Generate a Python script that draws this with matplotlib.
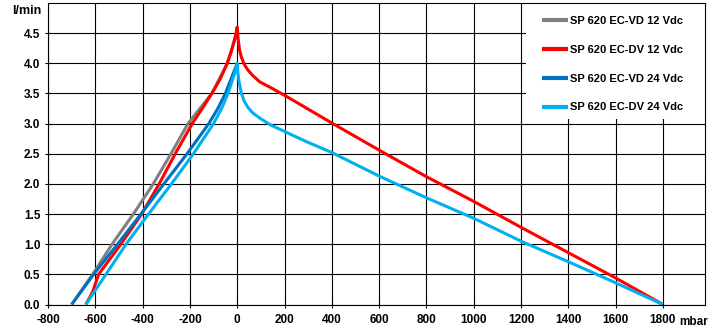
import matplotlib
matplotlib.use("Agg")
import matplotlib.pyplot as plt
from matplotlib.patches import Rectangle

plt.rcParams['font.family'] = ['Liberation Sans', 'DejaVu Sans']
plt.rcParams['font.weight'] = 'bold'
plt.rcParams['font.size'] = 8.5

# pressure in mbar (negative = vacuum), flow in l/min
vd12_p = [-700, -611, -529, -439, -355, -280, -208, -168, -107, -42, -25, -12, -4, 0]
vd12_q = [0.0, 0.5, 1.0, 1.5, 2.0, 2.5, 3.0, 3.2, 3.5, 4.0, 4.2, 4.38, 4.5, 4.6]

dv12_p = [-640, -612, -586, -492, -404, -330, -262, -190, -148, -107, -72, -42, -25, -12, -4, 0,
          4, 10, 18, 30, 45, 65, 96, 140, 200, 400, 600, 800, 1000, 1200, 1400, 1600, 1800]
dv12_q = [0.0, 0.2, 0.5, 1.0, 1.5, 2.0, 2.5, 3.0, 3.25, 3.5, 3.74, 4.0, 4.2, 4.38, 4.5, 4.6,
          4.4, 4.22, 4.1, 3.98, 3.89, 3.8, 3.69, 3.6, 3.47, 3.01, 2.56, 2.12, 1.71, 1.28, 0.86, 0.44, 0.0]

vd24_p = [-700, -607, -506, -407, -310, -212, -120, -82, -50, -30, -15, 0]
vd24_q = [0.0, 0.5, 1.0, 1.5, 2.0, 2.5, 3.0, 3.25, 3.5, 3.7, 3.85, 4.0]

dv24_p = [-640, -555, -470, -375, -278, -185, -100, -66, -39, -22, -8, 0,
          4, 10, 18, 30, 45, 65, 96, 140, 200, 293, 400, 600, 800, 1000, 1200, 1400, 1600, 1800]
dv24_q = [0.0, 0.5, 1.0, 1.5, 2.0, 2.5, 3.0, 3.25, 3.5, 3.7, 3.87, 4.0,
          3.8, 3.65, 3.5, 3.37, 3.27, 3.18, 3.09, 2.98, 2.87, 2.70, 2.52, 2.13, 1.77, 1.43, 1.05, 0.71, 0.36, 0.0]

series = [
    ("SP 620 EC-VD 12 Vdc", vd12_p, vd12_q, "#808080"),
    ("SP 620 EC-DV 12 Vdc", dv12_p, dv12_q, "#ff0000"),
    ("SP 620 EC-VD 24 Vdc", vd24_p, vd24_q, "#0070c0"),
    ("SP 620 EC-DV 24 Vdc", dv24_p, dv24_q, "#00b0f0"),
]

x_ticks = list(range(-800, 2000, 200))
y_ticks = [0.0, 0.5, 1.0, 1.5, 2.0, 2.5, 3.0, 3.5, 4.0, 4.5]

fig = plt.figure(figsize=(7.10, 3.28), dpi=100)
ax = fig.add_axes([48 / 710, 23.5 / 328, 657 / 710, 301.5 / 328])

for label, p, q, color in series:
    ax.plot(p, q, color=color, lw=2.2, label=label,
            solid_capstyle='butt', solid_joinstyle='round')

ax.set_xlim(-800, 1978)
ax.set_ylim(0, 5.0)
ax.set_xticks(x_ticks)
ax.set_xticklabels([str(t) for t in x_ticks])
ax.set_yticks(y_ticks)
ax.set_yticklabels([f"{t:.1f}" for t in y_ticks])
ax.grid(True, color='black', lw=0.8)
ax.set_axisbelow(True)
ax.tick_params(direction='inout', length=5, width=0.8, colors='black')
ax.tick_params(axis='x', pad=4)
ax.tick_params(axis='y', pad=3)
for s in ax.spines.values():
    s.set_color('black')
    s.set_linewidth(0.8)

# unit next to the last x tick label
ax.annotate("mbar", xy=(1800, 0), xycoords=('data', 'axes fraction'),
            xytext=(12, -8), textcoords='offset points', ha='left', va='top')
fig.text(12 / 710, 1 - 11 / 328, "l/min", ha='left', va='center', fontsize=9)

# white panel behind the legend, hiding the grid there
ax.add_patch(Rectangle((0.727, 0.615), 0.273, 0.385, transform=ax.transAxes,
                       facecolor='white', edgecolor='none', zorder=1.5))

leg = ax.legend(loc='upper left', bbox_to_anchor=(0.7437, 0.976), borderaxespad=0,
                frameon=False, handlelength=2.3, handletextpad=0.25,
                labelspacing=1.7, borderpad=0.5, prop={'size': 8, 'weight': 'bold'})
for line in leg.get_lines():
    line.set_linewidth(3)

fig.savefig("out.png", dpi=100)
